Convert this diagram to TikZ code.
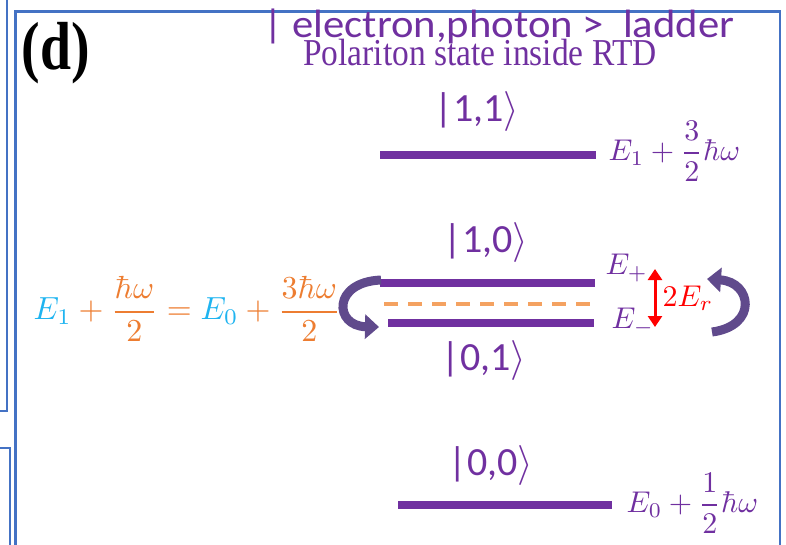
\documentclass[tikz,border=0pt]{standalone}
\usepackage[no-math]{fontspec}
\setmainfont{Liberation Serif}
\newfontfamily\calib{Carlito}
\usetikzlibrary{arrows.meta}
\definecolor{frameblue}{HTML}{4472C4}
\definecolor{lvl}{HTML}{7030A0}
\definecolor{eqorange}{HTML}{ED7D31}
\definecolor{eqcyan}{HTML}{1FB4F0}
\definecolor{arrpurple}{HTML}{604A8C}
\definecolor{dashorange}{HTML}{F4A261}
\begin{document}
\begin{tikzpicture}[x=1pt,y=-1pt,
  frame/.style={draw=frameblue,line width=2.5pt},
  level/.style={draw=lvl,line width=8pt},
  ket/.style={text=lvl,font=\calib\fontsize{10}{10}\selectfont,scale=4,inner sep=0pt},
  enlab/.style={text=lvl,font=\fontsize{10}{12}\selectfont,scale=3,inner sep=0pt},
  curv/.style={draw=arrpurple,line width=9pt,-{Triangle[length=14pt,width=24pt]}},
  splitarr/.style={draw=red,line width=3pt,{Triangle[length=11pt,width=14pt]}-{Triangle[length=11pt,width=14pt]}}]
\useasboundingbox (0,0) rectangle (786,544);
% frames
\draw[frame] (15.5,550) -- (15.5,11.5) -- (780,11.5) -- (780,550);
\draw[frame] (-2,411) -- (7,411) -- (7,-2);
\draw[frame] (-2,448) -- (10,448) -- (10,550);
% titles
\node[anchor=base,font=\bfseries\fontsize{68}{68}\selectfont,xscale=0.82,inner sep=0pt] (lab) at (56,69.5) {(d)};
\node[anchor=base west,text=lvl,font=\calib\fontsize{39.5}{40}\selectfont,xscale=1.08,inner sep=0pt] (t1) at (263,37) {| electron,photon >\ \ ladder};
\node[anchor=base west,text=lvl,font=\fontsize{38}{38}\selectfont,xscale=0.88,inner sep=0pt] (t2) at (303,65) {Polariton state inside RTD};
% levels
\coordinate (a11) at (380,155); \coordinate (b11) at (596,155);
\coordinate (a10) at (380,283); \coordinate (b10) at (595,283);
\coordinate (ad) at (384,304); \coordinate (bd) at (600,304);
\coordinate (a01) at (388,323); \coordinate (b01) at (594,323);
\coordinate (a00) at (398,505); \coordinate (b00) at (612,505);
\draw[level] (a11) -- (b11);
\draw[level] (a10) -- (b10);
\draw[draw=dashorange,line width=4pt,dash pattern=on 14pt off 10pt] (ad) -- (bd);
\draw[level] (a01) -- (b01);
\draw[level] (a00) -- (b00);
% kets
\node[ket] (k11) at (477,111) {|1,1$\rangle$};
\node[ket] (k10) at (486,242) {|1,0$\rangle$};
\node[ket] (k01) at (484,360) {|0,1$\rangle$};
\node[ket] (k00) at (491,465) {|0,0$\rangle$};
% energies
\node[enlab,anchor=west] (e11) at (608,151) {$\displaystyle E_1+\frac{3}{2}\hbar\omega$};
\node[enlab,anchor=west] (e00) at (626,503) {$\displaystyle E_0+\frac{1}{2}\hbar\omega$};
\node[enlab,anchor=west] (ep) at (605,268) {$E_+$};
\node[enlab,anchor=west] (em) at (611,322) {$E_-$};
\node[enlab,anchor=west,text=red] (er) at (662,298) {$2E_r$};
\coordinate (rt) at (655,269); \coordinate (rb) at (655,327);
\draw[splitarr] (rt) -- (rb);
% left equation
\node[inner sep=0pt,anchor=west,font=\fontsize{10}{12}\selectfont,scale=3.2] (eq) at (33,309)
  {$\displaystyle {\color{eqcyan}E_1}{\color{eqorange}{}+\frac{\hbar\omega}{2}={}}{\color{eqcyan}E_0}{\color{eqorange}{}+\frac{3\hbar\omega}{2}}$};
% curved arrows
\coordinate (l1) at (381,280); \coordinate (l2) at (379,327);
\draw[curv] (l1) .. controls (332,282) and (334,326) .. (l2);
\coordinate (r1) at (712,332); \coordinate (r2) at (707,279);
\draw[curv] (r1) .. controls (758,326) and (752,282) .. (r2);
\end{tikzpicture}
\end{document}
